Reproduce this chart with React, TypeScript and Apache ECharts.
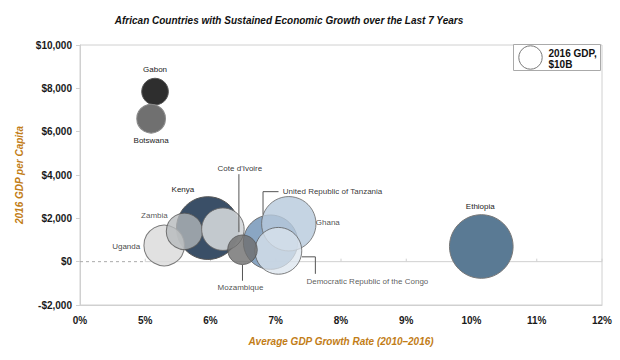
import React, { useEffect, useRef } from "react";
import * as echarts from "echarts";

// ---------- data ----------
const countries = [
  "Gabon",
  "Botswana",
  "Kenya",
  "Uganda",
  "Zambia",
  "Cote d'Ivoire",
  "United Republic of Tanzania",
  "Ghana",
  "Democratic Republic of the Congo",
  "Mozambique",
  "Ethiopia",
];
// average GDP growth rate 2010–2016 (%)
const growthRate = [5.15, 5.09, 5.96, 5.29, 5.6, 6.19, 6.92, 7.2, 7.04, 6.49, 10.15];
// 2016 GDP per capita (US$)
const gdpPerCapita = [7850, 6600, 1550, 750, 1400, 1500, 900, 1750, 500, 550, 700];
// 2016 GDP (US$ billions) -> bubble area
const gdpBillions = [13, 15, 72, 30, 24, 33, 54, 54, 40, 16, 74];

const xTickValues = [4, 5, 6, 7, 8, 9, 10, 11, 12];
const xTickLabels = ["0%", "5%", "6%", "7%", "8%", "9%", "10%", "11%", "12%"];
const yTickValues = [-2000, 0, 2000, 4000, 6000, 8000, 10000];
const yTickLabels = ["-$2,000", "$0", "$2,000", "$4,000", "$6,000", "$8,000", "$10,000"];

const legendGdp = 10; // $10B reference bubble

// ---------- styles ----------
const LEGEND_R = 11.7;
const bubbleDiameter = (gdp: number) => 2 * LEGEND_R * Math.sqrt(gdp / legendGdp);

const bubbleStyle: Record<string, { color: string; opacity: number; border: string }> = {
  Gabon: { color: "#2e2e2e", opacity: 1, border: "#555" },
  Botswana: { color: "#707070", opacity: 1, border: "#888" },
  Kenya: { color: "#3a4f67", opacity: 1, border: "#555" },
  Uganda: { color: "#dcdcdc", opacity: 0.85, border: "#666" },
  Zambia: { color: "#b5b8bb", opacity: 0.78, border: "#555" },
  "Cote d'Ivoire": { color: "#d3d6d9", opacity: 0.9, border: "#666" },
  "United Republic of Tanzania": { color: "#7d9cbd", opacity: 0.9, border: "#666" },
  Ghana: { color: "#b6c9dc", opacity: 0.8, border: "#666" },
  "Democratic Republic of the Congo": { color: "#dbe4ee", opacity: 0.75, border: "#555" },
  Mozambique: { color: "#6e6e6e", opacity: 0.8, border: "#555" },
  Ethiopia: { color: "#5a7a94", opacity: 1, border: "#777" },
};

// label centre offset from bubble centre (px)
const labelOffset: Record<string, [number, number]> = {
  Gabon: [0, -22],
  Botswana: [0, 22],
  Kenya: [-25, -39],
  Uganda: [-38, 1],
  Zambia: [-30, -16],
  "Cote d'Ivoire": [17, -61],
  "United Republic of Tanzania": [62, -51],
  Ghana: [39, -1],
  "Democratic Republic of the Congo": [89, 31],
  Mozambique: [-2, 38],
  Ethiopia: [-1, -40],
};

// leader lines (px offsets from bubble centre)
const leaders: Record<string, [number, number][]> = {
  "Cote d'Ivoire": [
    [16, -55],
    [16, 3],
  ],
  Mozambique: [
    [0, 15],
    [0, 31],
  ],
  "United Republic of Tanzania": [
    [8, -50.5],
    [-7.5, -50.5],
    [-7.5, -27.5],
  ],
  "Democratic Republic of the Congo": [
    [23.5, 6],
    [37, 6],
    [37, 23],
  ],
};

const FONT = "'Liberation Sans', Arial, sans-serif";
const ORANGE = "#c27d17";
const AXIS_GREY = "#d0d0d0";

export default function App() {
  const ref = useRef<HTMLDivElement>(null);

  useEffect(() => {
    if (!ref.current) return;
    const chart = echarts.init(ref.current, undefined, { renderer: "svg" });

    const labelBase = {
      show: true,
      position: ["50%", "50%"],
      fontFamily: FONT,
      fontSize: 8,
      color: "#222",
      textBorderWidth: 0,
      align: "center",
      verticalAlign: "middle",
    };

    const scatterData = countries.map((name, i) => {
      const s = bubbleStyle[name];
      return {
        name,
        value: [growthRate[i], gdpPerCapita[i], gdpBillions[i]],
        itemStyle: { color: s.color, opacity: s.opacity, borderColor: s.border, borderWidth: 1 },
        label: { ...labelBase, offset: labelOffset[name], formatter: name },
      };
    });

    const leaderData = countries
      .map((name, i) => ({ name, i }))
      .filter((d) => leaders[d.name])
      .map((d) => ({ name: d.name, value: [growthRate[d.i], gdpPerCapita[d.i]] }));

    const xMin = xTickValues[0];
    const xBreak = xTickValues[1];
    const xMax = xTickValues[xTickValues.length - 1];

    const option: any = {
      animation: false,
      backgroundColor: "#fff",
      textStyle: { fontFamily: FONT },
      title: {
        text: "African Countries with Sustained Economic Growth over the Last 7 Years",
        left: 284,
        top: 10,
        textAlign: "center",
        textStyle: {
          fontFamily: FONT,
          fontSize: 10,
          fontWeight: "bold",
          fontStyle: "italic",
          color: "#111",
        },
      },
      grid: {
        left: 80,
        right: 18,
        top: 45,
        bottom: 55,
        show: true,
        borderColor: AXIS_GREY,
        borderWidth: 1,
      },
      xAxis: {
        type: "value",
        min: xMin,
        max: xMax,
        interval: 1,
        axisLine: { show: true, onZero: false, lineStyle: { color: AXIS_GREY } },
        axisTick: { show: false },
        splitLine: { show: false },
        axisLabel: {
          margin: 10,
          fontFamily: FONT,
          fontSize: 10,
          fontWeight: "bold",
          color: "#1a1a1a",
          formatter: (v: number) => xTickLabels[xTickValues.indexOf(v)] ?? "",
        },
        name: "Average GDP Growth Rate (2010–2016)",
        nameLocation: "middle",
        nameGap: 31,
        nameTextStyle: {
          fontFamily: FONT,
          fontSize: 10,
          fontWeight: "bold",
          fontStyle: "italic",
          color: ORANGE,
        },
      },
      yAxis: {
        type: "value",
        min: yTickValues[0],
        max: yTickValues[yTickValues.length - 1],
        interval: 2000,
        axisLine: { show: true, lineStyle: { color: AXIS_GREY } },
        axisTick: { show: true, length: 4, lineStyle: { color: AXIS_GREY } },
        splitLine: { show: false },
        axisLabel: {
          margin: 8,
          fontFamily: FONT,
          fontSize: 10,
          fontWeight: "bold",
          color: "#1a1a1a",
          formatter: (v: number) => yTickLabels[yTickValues.indexOf(v)] ?? "",
        },
        name: "2016 GDP per Capita",
        nameLocation: "middle",
        nameRotate: 90,
        nameGap: 56,
        nameTextStyle: {
          fontFamily: FONT,
          fontSize: 10,
          fontWeight: "bold",
          fontStyle: "italic",
          color: ORANGE,
        },
      },
      series: [
        {
          // zero line: dashed across the axis break, solid afterwards, with ticks
          type: "custom",
          z: 1,
          silent: true,
          clip: false,
          data: [[xMin, 0]],
          renderItem: (_p: any, api: any) => {
            const a = api.coord([xMin, 0]);
            const b = api.coord([xBreak, 0]);
            const c = api.coord([xMax, 0]);
            const children: any[] = [
              {
                type: "line",
                shape: { x1: a[0], y1: a[1], x2: b[0], y2: b[1] },
                style: { stroke: "#aaaaaa", lineWidth: 1, lineDash: [3, 3] },
              },
              {
                type: "line",
                shape: { x1: b[0], y1: b[1], x2: c[0], y2: c[1] },
                style: { stroke: AXIS_GREY, lineWidth: 1 },
              },
            ];
            xTickValues.slice(1).forEach((t) => {
              const p = api.coord([t, 0]);
              children.push({
                type: "line",
                shape: { x1: p[0], y1: p[1], x2: p[0], y2: p[1] - 3 },
                style: { stroke: AXIS_GREY, lineWidth: 1 },
              });
            });
            return { type: "group", children };
          },
        },
        {
          type: "scatter",
          z: 2,
          data: scatterData,
          symbolSize: (v: number[]) => bubbleDiameter(v[2]),
          emphasis: { disabled: true },
        },
        {
          type: "custom",
          z: 3,
          silent: true,
          clip: false,
          data: leaderData,
          renderItem: (params: any, api: any) => {
            const name = leaderData[params.dataIndex].name;
            const c = api.coord([api.value(0), api.value(1)]);
            const pts = leaders[name].map(([dx, dy]) => [c[0] + dx, c[1] + dy]);
            return {
              type: "polyline",
              shape: { points: pts },
              style: { stroke: "#555", lineWidth: 1, fill: null },
            };
          },
        },
      ],
      graphic: [
        {
          type: "group",
          left: 513,
          top: 44,
          z: 10,
          children: [
            {
              type: "rect",
              shape: { x: 0, y: 0, width: 87, height: 26 },
              style: { fill: "#fff", stroke: "#aaaaaa", lineWidth: 1 },
            },
            {
              type: "circle",
              shape: { cx: 17, cy: 13, r: bubbleDiameter(legendGdp) / 2 },
              style: { fill: "#fff", stroke: "#777", lineWidth: 1 },
            },
            {
              type: "text",
              x: 35,
              y: 3,
              style: {
                text: "2016 GDP,\n$10B",
                fontFamily: FONT,
                fontSize: 10,
                fontWeight: "bold",
                fill: "#111",
                lineHeight: 11,
              },
            },
          ],
        },
      ],
    };

    chart.setOption(option);
    return () => chart.dispose();
  }, []);

  return (
    <div
      ref={ref}
      style={{ position: "absolute", left: 0, top: 0, width: 620, height: 360 }}
    />
  );
}
